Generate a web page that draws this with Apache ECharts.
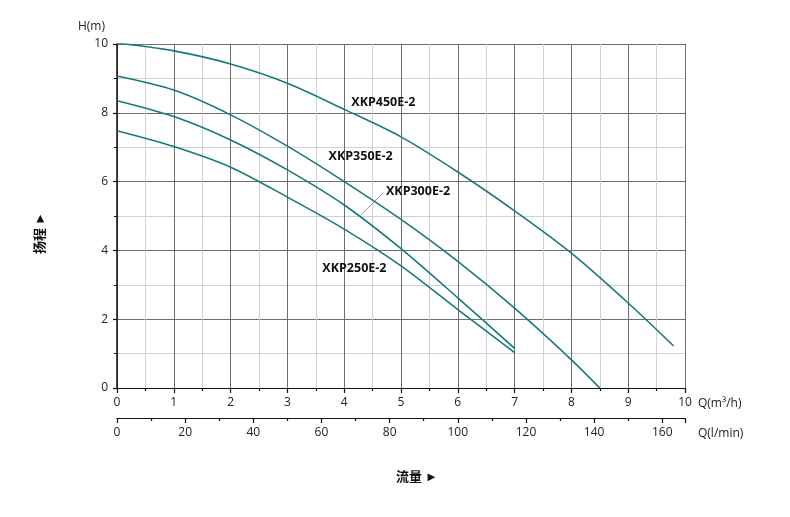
<!DOCTYPE html>
<html>
<head>
<meta charset="utf-8">
<script src="https://cdn.jsdelivr.net/npm/echarts@6/dist/echarts.min.js"></script>
<style>
html,body{margin:0;padding:0;background:#fff;}
#c{width:790px;height:517px;}
</style>
</head>
<body>
<div id="c"></div>
<script>
// ---- data ----
const flowTicksM3h = [0,1,2,3,4,5,6,7,8,9,10];
const flowTicksLmin = [0,20,40,60,80,100,120,140,160];
const headTicks = [0,2,4,6,8,10];

const xkp450Q = [0,1,2,3,4,5,6,7,8,9,9.8];
const xkp450H = [10.03,9.8,9.42,8.86,8.1,7.3,6.28,5.15,3.92,2.47,1.22];

const xkp350Q = [0,1,2,3,4,5,6,7,8,8.5];
const xkp350H = [9.07,8.66,7.94,7.03,6.0,4.9,3.68,2.32,0.82,0];

const xkp300Q = [0,1,2,3,4,5,6,7];
const xkp300H = [8.35,7.89,7.21,6.34,5.32,4.05,2.62,1.15];

const xkp250Q = [0,1,2,3,4,5,6,7];
const xkp250H = [7.48,7.02,6.42,5.55,4.62,3.55,2.28,1.03];

const seriesNames = ['XKP450E-2','XKP350E-2','XKP300E-2','XKP250E-2'];

// ---- build ----
const pair = (q, h) => q.map((v, i) => [v, h[i]]);
const curveColor = '#17797d';
const font = "'Open Sans', 'Noto Sans', sans-serif";
const cjk = "'Noto Sans CJK SC', sans-serif";

function curve(name, q, h, labelAt, extra) {
  return Object.assign({
    name: name,
    type: 'line',
    data: pair(q, h),
    smooth: 0.3,
    showSymbol: false,
    symbol: 'none',
    lineStyle: { color: curveColor, width: 1.6 },
    markPoint: {
      symbol: 'circle', symbolSize: 0, silent: true,
      data: [{ coord: labelAt, value: name }],
      label: { show: true, position: 'inside', formatter: name,
        fontFamily: font, fontWeight: 'bold', fontSize: 12.5, color: '#111' }
    },
    z: 3
  }, extra || {});
}

const chart = echarts.init(document.getElementById('c'), null, { renderer: 'canvas' });
chart.setOption({
  animation: false,
  backgroundColor: '#fff',
  grid: { left: 117, right: 105, top: 44, bottom: 129, containLabel: false },
  xAxis: [{
    type: 'value', min: flowTicksM3h[0], max: flowTicksM3h[flowTicksM3h.length-1], interval: 1,
    name: 'Q(m³/h)', nameLocation: 'end', nameGap: 13,
    nameTextStyle: { fontFamily: font, fontSize: 12, color: '#222', align: 'left', verticalAlign: 'top', padding: [10,0,0,0] },
    axisLine: { show: true, onZero: false, lineStyle: { color: '#111', width: 1.2 } },
    axisTick: { show: true, length: 5, lineStyle: { color: '#111', width: 1.2 } },
    minorTick: { show: true, splitNumber: 2, length: 3, lineStyle: { color: '#111', width: 1.2 } },
    axisLabel: { margin: 9, fontFamily: font, fontSize: 12, color: '#222' },
    splitLine: { show: true, lineStyle: { color: '#6e6e6e', width: 1 } },
    minorSplitLine: { show: true, lineStyle: { color: '#d2d2d2', width: 1 } }
  }, {
    type: 'value', position: 'bottom', offset: 30,
    min: flowTicksLmin[0], max: 1000/6, interval: 20,
    name: 'Q(l/min)', nameLocation: 'end', nameGap: 13,
    nameTextStyle: { fontFamily: font, fontSize: 12, color: '#222', align: 'left', verticalAlign: 'top', padding: [10,0,0,0] },
    axisLine: { show: true, onZero: false, lineStyle: { color: '#111', width: 1.2 } },
    axisTick: { show: true, length: 5, lineStyle: { color: '#111', width: 1.2 } },
    minorTick: { show: true, splitNumber: 2, length: 3, lineStyle: { color: '#111', width: 1.2 } },
    axisLabel: { margin: 9, fontFamily: font, fontSize: 12, color: '#222', showMaxLabel: false,
      formatter: v => (flowTicksLmin.indexOf(Math.round(v)) >= 0 && Math.abs(v - Math.round(v)) < 1e-6) ? String(Math.round(v)) : '' },
    splitLine: { show: false }
  }],
  yAxis: {
    type: 'value', min: headTicks[0], max: headTicks[headTicks.length-1], interval: 2,
    name: 'H(m)', nameLocation: 'end', nameGap: 17,
    nameTextStyle: { fontFamily: font, fontSize: 12, color: '#222', align: 'right', verticalAlign: 'middle', padding: [0,12,0,0] },
    axisLine: { show: true, onZero: false, lineStyle: { color: '#111', width: 1.5 } },
    axisTick: { show: true, length: 4, lineStyle: { color: '#111', width: 1.2 } },
    minorTick: { show: true, splitNumber: 2, length: 3, lineStyle: { color: '#111', width: 1 } },
    axisLabel: { margin: 9, fontFamily: font, fontSize: 12, color: '#222' },
    splitLine: { show: true, lineStyle: { color: '#6e6e6e', width: 1 } },
    minorSplitLine: { show: true, lineStyle: { color: '#d2d2d2', width: 1 } }
  },
  series: [
    curve(seriesNames[0], xkp450Q, xkp450H, [4.69, 8.31]),
    curve(seriesNames[1], xkp350Q, xkp350H, [4.29, 6.72]),
    curve(seriesNames[2], xkp300Q, xkp300H, [5.3, 5.7], {
      markLine: {
        silent: true, symbol: 'none',
        label: { show: false },
        lineStyle: { color: '#777', width: 0.8, type: 'solid' },
        data: [[{ coord: [4.68, 5.66] }, { coord: [4.29, 5.03] }]]
      }
    }),
    curve(seriesNames[3], xkp250Q, xkp250H, [4.18, 3.49])
  ],
  graphic: [
    { type: 'text', left: 396, top: 470,
      style: { text: '流量 ►', font: "bold 13px " + cjk, fill: '#111' } },
    { type: 'text', x: 33, y: 254, rotation: Math.PI / 2,
      style: { text: '扬程 ►', font: "bold 13px " + cjk, fill: '#111' } }
  ]
});
</script>
</body>
</html>
